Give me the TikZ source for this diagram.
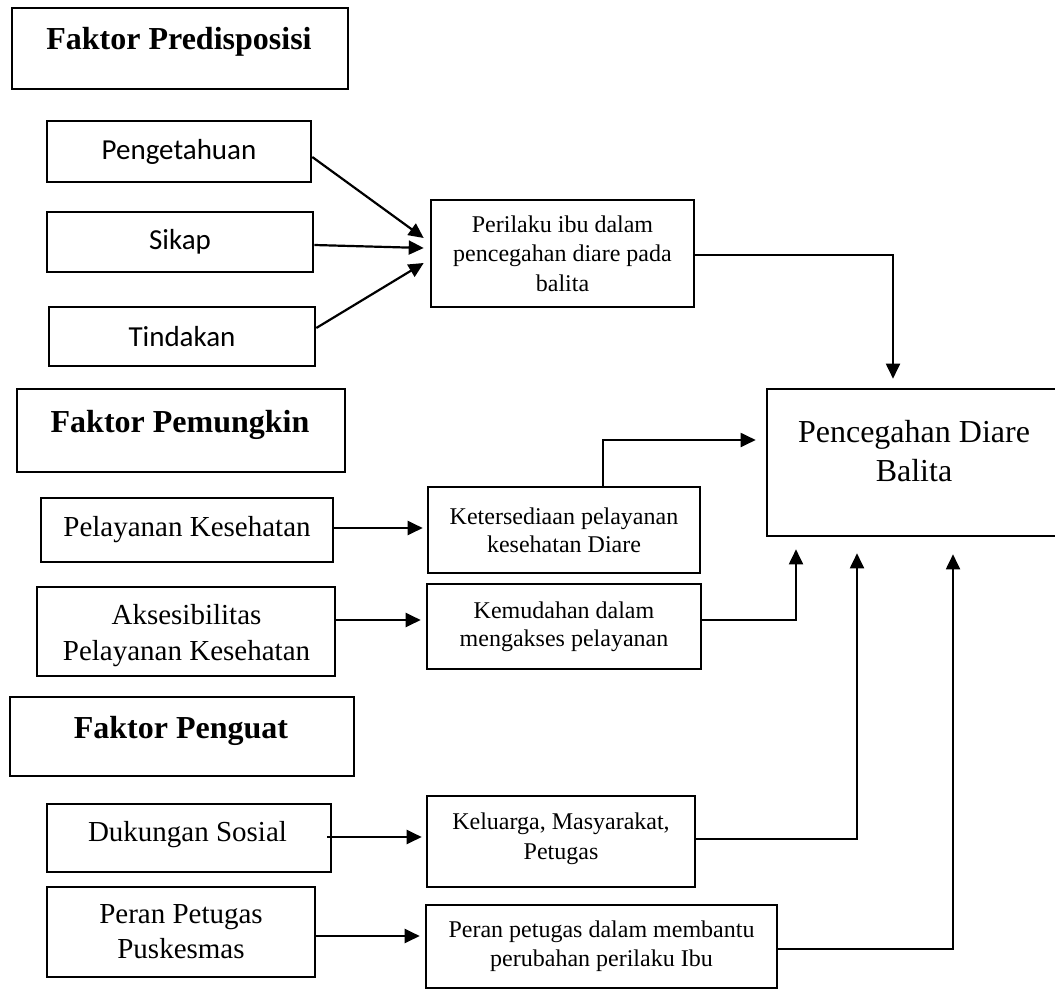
\documentclass[tikz,border=0pt]{standalone}
\usepackage{fontspec}
\setmainfont{Liberation Serif}
\newfontfamily\calibri{Carlito}
\usetikzlibrary{arrows.meta}
\tikzset{
  bx/.style={draw, line width=2.6pt, inner sep=0pt, align=center},
  txt/.style={inner sep=0pt, align=center},
  fbig/.style={font=\bfseries\fontsize{32}{38}\selectfont},
  fcal/.style={font=\calibri\fontsize{29}{34}\selectfont},
  fmid/.style={font=\fontsize{29}{35}\selectfont},
  fsmall/.style={font=\fontsize{24}{28}\selectfont},
  arr/.style={line width=2.2pt, -{Triangle[length=15pt,width=14pt]}},
  linkarr/.style={line width=1.9pt, -{Triangle[length=15pt,width=14pt]}}
}
\begin{document}
\begin{tikzpicture}[x=1pt,y=-1pt]
\useasboundingbox (0,0) rectangle (1055,990);

% Faktor Predisposisi
\node[bx, minimum width=336pt, minimum height=81pt] (fpbox) at (180,48.5) {};
\node[txt, fbig, anchor=base] (fptext) at (179,50) {Faktor Predisposisi};

\node[bx, fcal, minimum width=264pt, minimum height=61pt] (peng) at (179,151.5) {Pengetahuan};
\node[bx, fcal, minimum width=266pt, minimum height=60pt] (sikap) at (180,242) {Sikap};
\node[bx, fcal, minimum width=266pt, minimum height=59pt] (tind) at (182,336.5) {Tindakan};

\node[bx, font=\fontsize{24}{29.5}\selectfont, minimum width=263pt, minimum height=107pt] (peril) at (562.5,253.5) {Perilaku ibu dalam\\pencegahan diare pada\\balita};

% Pencegahan
\node[bx, minimum width=295pt, minimum height=147pt] (pc) at (914.5,462.5) {};
\node[txt, font=\fontsize{32}{39}\selectfont] (pctext) at (914,451.5) {Pencegahan Diare\\Balita};

% Faktor Pemungkin
\node[bx, minimum width=328pt, minimum height=83pt] (fmbox) at (181,430.5) {};
\node[txt, fbig, anchor=base] (fmtext) at (180,432) {Faktor Pemungkin};

\node[bx, fmid, minimum width=292pt, minimum height=64pt] (pk) at (187,530) {Pelayanan Kesehatan};
\node[bx, minimum width=298pt, minimum height=89pt] (aks) at (186,631.5) {};
\node[txt, font=\fontsize{29}{36}\selectfont] (akstext) at (186.5,636) {Aksesibilitas\\Pelayanan Kesehatan};

\node[bx, fsmall, minimum width=272pt, minimum height=86pt] (ket) at (564,530) {Ketersediaan pelayanan\\kesehatan Diare};
\node[bx, fsmall, minimum width=274pt, minimum height=85pt] (kem) at (564,626.5) {Kemudahan dalam\\mengakses pelayanan};

% Faktor Penguat
\node[bx, minimum width=344pt, minimum height=79pt] (fgbox) at (182,736.5) {};
\node[txt, fbig, anchor=base] (fgtext) at (181,738) {Faktor Penguat};

\node[bx, minimum width=284pt, minimum height=68pt] (duk) at (189,838) {};
\node[txt, fmid, anchor=base] (duktext) at (187.5,841) {Dukungan Sosial};
\node[bx, fmid, minimum width=268pt, minimum height=90pt] (pp) at (181,932) {Peran Petugas\\Puskesmas};

\node[bx, minimum width=268pt, minimum height=91pt] (kel) at (561,841.5) {};
\node[txt, font=\fontsize{24}{30}\selectfont] (keltext) at (561,838.5) {Keluarga, Masyarakat,\\Petugas};
\node[bx, font=\fontsize{24}{29}\selectfont, minimum width=351pt, minimum height=83pt] (ppd) at (601.5,946.5) {Peran petugas dalam membantu\\perubahan perilaku Ibu};

% Arrows into Perilaku
\draw[arr] ([yshift=-5.5pt]peng.east) -- ([xshift=-6pt,yshift=15.5pt]peril.west);
\draw[arr] ([yshift=-3pt]sikap.east) -- ([xshift=-6pt,yshift=5.5pt]peril.west);
\draw[arr] ([yshift=8.5pt]tind.east) -- ([xshift=-6pt,yshift=-9.5pt]peril.west);

% Perilaku -> Pencegahan
\draw[linkarr] ([yshift=-1.5pt]peril.east) -| ([xshift=-21.5pt,yshift=9pt]pc.north);

% Pemungkin arrows
\draw[arr] ([yshift=2pt]pk.east) -- ([xshift=-4pt,yshift=2pt]ket.west);
\draw[linkarr] ([xshift=39pt]ket.north) |- ([xshift=-10pt,yshift=22.5pt]pc.west);
\draw[arr] ([yshift=11.5pt]aks.east) -- ([xshift=-5pt,yshift=6.5pt]kem.west);
\draw[linkarr] ([yshift=6.5pt]kem.east) -| ([xshift=-118.5pt,yshift=-12pt]pc.south);

% Penguat arrows
\draw[arr] ([xshift=-5pt,yshift=1pt]duk.east) -- ([xshift=-4pt,yshift=4.5pt]kel.west);
\draw[linkarr] ([yshift=2.5pt]kel.east) -| ([xshift=-57.5pt,yshift=-16pt]pc.south);
\draw[arr] ([yshift=-4pt]pp.east) -- ([xshift=-5pt,yshift=10.5pt]ppd.west);
\draw[linkarr] ([yshift=-2.5pt]ppd.east) -| ([xshift=38.5pt,yshift=-17pt]pc.south);
\end{tikzpicture}
\end{document}
